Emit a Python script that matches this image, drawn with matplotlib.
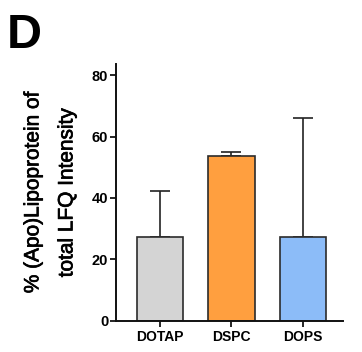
import numpy as np
import matplotlib
matplotlib.use("Agg")
import matplotlib.pyplot as plt
import matplotlib.patheffects as pe

plt.rcParams['font.family'] = ['Liberation Sans', 'DejaVu Sans']
plt.rcParams['font.weight'] = 'bold'

lipids = ["DOTAP", "DSPC", "DOPS"]
means = [27.2, 53.6, 27.2]
sd_upper = [15.1, 1.2, 38.7]
bar_colors = ["#d4d4d4", "#ff9f3f", "#8cbcf8"]
y_ticks = [0, 20, 40, 60, 80]

fig = plt.figure(figsize=(3.62, 3.52), dpi=100)
ax = fig.add_axes([0.320, 0.089, 0.628, 0.729])

x = np.arange(len(lipids))
ax.bar(x, means, width=0.65, color=bar_colors, edgecolor="#2b2b2b",
       linewidth=1.2, zorder=2)
ax.errorbar(x, means, yerr=[np.zeros(len(means)), sd_upper], fmt='none',
            ecolor="#222222", elinewidth=1.2, capsize=7.5, capthick=1.2,
            zorder=1)

ax.set_xlim(-0.617, 2.565)
ax.set_ylim(0, 83.6)
ax.set_yticks(y_ticks)
ax.set_xticks(x)
ax.set_xticklabels(lipids, fontsize=10, fontweight='bold')
ax.tick_params(axis='y', labelsize=10.5, width=1.2, length=4, pad=1.5)
ax.tick_params(axis='x', width=1.2, length=4, pad=3)
for lab in ax.get_yticklabels():
    lab.set_fontweight('bold')

for side in ['top', 'right']:
    ax.spines[side].set_visible(False)
for side in ['left', 'bottom']:
    ax.spines[side].set_linewidth(1.4)
    ax.spines[side].set_color("#111111")

# regular face thickened a little: the original reads semi-bold
ylab = ax.set_ylabel("% (Apo)Lipoprotein of\ntotal LFQ Intensity", fontsize=15,
                     fontweight='normal', linespacing=2.0, labelpad=11)
ylab.set_path_effects([pe.withStroke(linewidth=0.5, foreground='black')])

fig.text(0.02, 0.962, "D", fontsize=35, fontweight='bold', va='top', ha='left')

fig.savefig("out.png", dpi=100, facecolor='w')
